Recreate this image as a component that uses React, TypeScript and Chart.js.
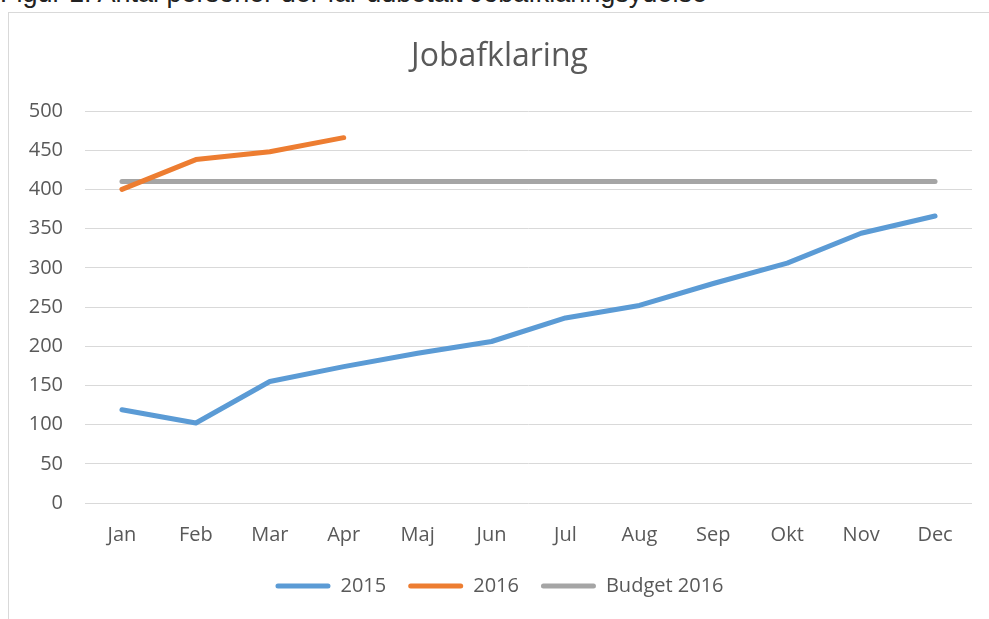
import React, { useEffect, useRef } from "react";
import { Chart, registerables } from "chart.js";

Chart.register(...registerables);

const categories = ["Jan", "Feb", "Mar", "Apr", "Maj", "Jun", "Jul", "Aug", "Sep", "Okt", "Nov", "Dec"];
const values2015 = [119, 102, 155, 174, 191, 206, 236, 252, 280, 306, 344, 366];
const values2016 = [400, 438, 448, 466, null, null, null, null, null, null, null, null];
const budget2016 = [410, 410, 410, 410, 410, 410, 410, 410, 410, 410, 410, 410];
const seriesNames = ["2015", "2016", "Budget 2016"];
const seriesColors = ["#5B9BD5", "#ED7D31", "#A5A5A5"];
const chartTitle = "Jobafklaring";
const caption = "Figur 1. Antal personer der får udbetalt Jobafklaringsydelse";

const FONT = "'Open Sans', sans-serif";
const TEXT = "#595959";

export default function App() {
  const ref = useRef<HTMLCanvasElement | null>(null);

  useEffect(() => {
    if (!ref.current) return;
    const seriesData = [values2015, values2016, budget2016];
    const chart = new Chart(ref.current, {
      type: "line",
      data: {
        labels: categories,
        datasets: seriesData.map((d, i) => ({
          label: seriesNames[i],
          data: d,
          borderColor: seriesColors[i],
          backgroundColor: seriesColors[i],
          borderWidth: 5,
          borderCapStyle: "round" as const,
          borderJoinStyle: "round" as const,
          pointRadius: 0,
          tension: 0,
          spanGaps: false,
          fill: false,
        })),
      },
      options: {
        animation: false,
        responsive: false,
        maintainAspectRatio: false,
        layout: { padding: { left: 27, right: 17, top: 0, bottom: 13 } },
        plugins: {
          tooltip: { enabled: false },
          title: {
            display: true,
            text: chartTitle,
            color: TEXT,
            font: { family: FONT, size: 32, weight: "normal" },
            padding: { top: 38, bottom: 34.6 },
          },
          legend: {
            position: "bottom",
            labels: {
              color: TEXT,
              font: { family: FONT, size: 20 },
              boxWidth: 55,
              boxHeight: 5,
              padding: 22,
              useBorderRadius: true,
              borderRadius: 2.5,
              generateLabels: (c: any) =>
                c.data.datasets.map((ds: any, i: number) => ({
                  text: ds.label,
                  fillStyle: seriesColors[i],
                  strokeStyle: seriesColors[i],
                  lineWidth: 0,
                  fontColor: TEXT,
                  hidden: false,
                  datasetIndex: i,
                  borderRadius: 2.5,
                })),
            },
          },
        },
        scales: {
          x: {
            offset: true,
            grid: { display: false, drawTicks: false, offset: true },
            border: { display: false },
            ticks: { color: TEXT, font: { family: FONT, size: 20 }, padding: 20, maxRotation: 0 },
            afterFit: (s: any) => {
              s.height = 51;
            },
          },
          y: {
            min: 0,
            max: 500,
            grid: { color: "#D9D9D9", lineWidth: 1, drawTicks: false },
            border: { display: false },
            ticks: { stepSize: 50, color: TEXT, font: { family: FONT, size: 20 }, padding: 22 },
            afterFit: (s: any) => {
              s.width = 58;
            },
          },
        },
      },
    });
    return () => chart.destroy();
  }, []);

  return (
    <div style={{ position: "fixed", left: 0, top: 0, width: 989, height: 619, overflow: "hidden", background: "#fff" }}>
      <div
        style={{
          position: "absolute",
          left: 0,
          top: -20,
          fontFamily: "'Liberation Sans', Arial, sans-serif",
          fontSize: 27,
          lineHeight: "27px",
          color: "#222",
          whiteSpace: "nowrap",
        }}
      >
        {caption}
      </div>
      <div
        style={{
          position: "absolute",
          left: 8,
          top: 12,
          width: 1100,
          height: 700,
          border: "1px solid #D9D9D9",
        }}
      />
      <canvas ref={ref} width={989} height={619} style={{ position: "absolute", left: 0, top: 0 }} />
    </div>
  );
}
